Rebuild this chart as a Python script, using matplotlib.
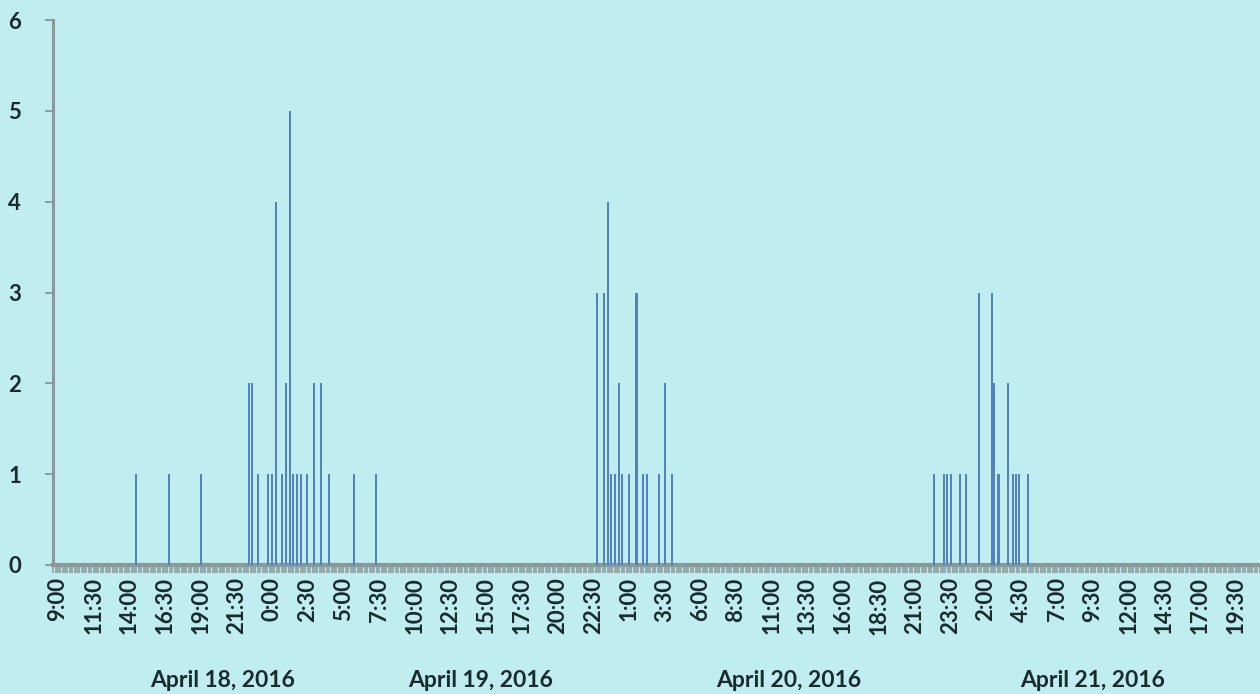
import numpy as np
import matplotlib
matplotlib.use("Agg")
import matplotlib.pyplot as plt
import matplotlib.dates as mdates
import matplotlib.transforms as mtransforms
from datetime import datetime, timedelta

# ---------------- data ----------------
times = [
    "2016-04-18 14:30", "2016-04-18 16:45", "2016-04-18 19:00", "2016-04-18 22:25",
    "2016-04-18 22:35", "2016-04-18 23:00", "2016-04-18 23:45", "2016-04-19 00:00",
    "2016-04-19 00:15", "2016-04-19 00:40", "2016-04-19 01:00", "2016-04-19 01:15",
    "2016-04-19 01:30", "2016-04-19 01:45", "2016-04-19 02:00", "2016-04-19 02:25",
    "2016-04-19 02:55", "2016-04-19 03:25", "2016-04-19 04:00", "2016-04-19 05:45",
    "2016-04-19 07:15",
    "2016-04-19 22:45", "2016-04-19 23:15", "2016-04-19 23:30", "2016-04-19 23:45",
    "2016-04-20 00:00", "2016-04-20 00:20", "2016-04-20 00:30", "2016-04-20 01:00",
    "2016-04-20 01:30", "2016-04-20 01:35", "2016-04-20 02:00", "2016-04-20 02:15",
    "2016-04-20 03:05", "2016-04-20 03:30", "2016-04-20 04:00",
    "2016-04-20 22:20", "2016-04-20 23:05", "2016-04-20 23:15", "2016-04-20 23:35",
    "2016-04-21 00:10", "2016-04-21 00:35", "2016-04-21 01:30", "2016-04-21 02:25",
    "2016-04-21 02:35", "2016-04-21 02:50", "2016-04-21 02:55", "2016-04-21 03:35",
    "2016-04-21 03:55", "2016-04-21 04:05", "2016-04-21 04:20", "2016-04-21 04:55",
]
counts = [
    1, 1, 1, 2,
    2, 1, 1, 1,
    4, 1, 2, 5,
    1, 1, 1, 1,
    2, 2, 1, 1,
    1,
    3, 3, 4, 1,
    1, 2, 1, 1,
    3, 3, 1, 1,
    1, 2, 1,
    1, 1, 1, 1,
    1, 1, 3, 3,
    2, 1, 1, 2,
    1, 1, 1, 1,
]
day_labels = ["April 18, 2016", "April 19, 2016", "April 20, 2016", "April 21, 2016"]
y_ticks = [0, 1, 2, 3, 4, 5, 6]

# ---------------- figure ----------------
bg = "#c0eef0"
txt = "#1a2a2e"
fam = ["Lato", "DejaVu Sans"]
fig = plt.figure(figsize=(12.6, 6.94), dpi=100, facecolor=bg)
ax = fig.add_axes([0.042, 0.186, 0.958, 0.785])
ax.set_facecolor("none")

t0 = datetime(2016, 4, 18, 9, 0)
xs = [mdates.date2num(datetime.strptime(t, "%Y-%m-%d %H:%M")) for t in times]
hour = 1.0 / 24.0
ax.bar(xs, counts, width=0.14 * hour, color="#5383be", linewidth=0, align="center", zorder=3)

x0 = mdates.date2num(t0)
ax.set_xlim(x0 - 0.35 * hour, x0 + 84.2 * hour)
ax.set_ylim(0, 6)

# x ticks: every 2.5 h labelled, minor every 10 min
major = [x0 + k * 2.5 * hour for k in range(34)]
minor = [x0 + k * (1 / 6) * hour for k in range(-2, 506)]
ax.set_xticks(major)
ax.set_xticks(minor, minor=True)
labels = []
for k in range(34):
    d = t0 + timedelta(hours=2.5 * k)
    labels.append(f"{d.hour}:{d.minute:02d}")
ax.set_xticklabels(labels, rotation=90, fontsize=16, color=txt, family=fam,
                   fontweight="bold")
ax.tick_params(axis="x", which="both", direction="out", length=6, width=1.1,
               color="#8a9899", pad=3)

ax.set_yticks(y_ticks)
ax.set_yticklabels([str(v) for v in y_ticks], fontsize=16, color=txt, family=fam,
                   fontweight="bold")
ax.tick_params(axis="y", direction="out", length=6, width=1.3, color="#8a9899", pad=17)

for s in ["top", "right"]:
    ax.spines[s].set_visible(False)
ax.spines["left"].set_color("#8a9899")
ax.spines["left"].set_linewidth(2.2)
ax.spines["bottom"].set_color("#8a9899")
ax.spines["bottom"].set_linewidth(3)

# day group labels
trans = mtransforms.blended_transform_factory(ax.transData, ax.transAxes)
day_pos_hours = [11.5, 29.6, 51.2, 72.5]
for lab, h in zip(day_labels, day_pos_hours):
    ax.text(x0 + h * hour, -0.213, lab, transform=trans, ha="center", va="center",
            fontsize=16.5, fontweight="bold", color=txt, family=fam)

fig.savefig("out.png", dpi=100, facecolor=bg)
